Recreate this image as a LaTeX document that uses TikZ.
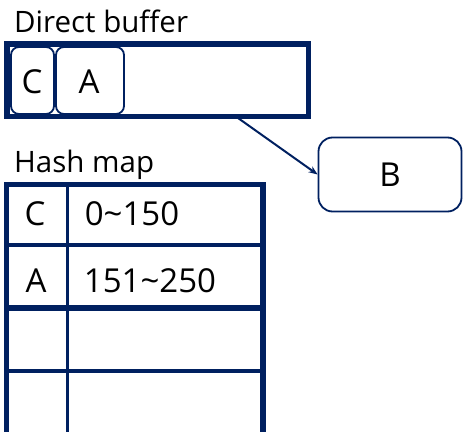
\documentclass[tikz,border=0pt]{standalone}
\usepackage{fontspec}
\setmainfont{Open Sans}
\usetikzlibrary{arrows.meta}
\definecolor{navy}{RGB}{0,32,96}
\begin{document}
\begin{tikzpicture}[x=1pt,y=-1pt,
  title/.style={anchor=base west,inner sep=0pt,font=\fontsize{29.5}{31}\selectfont},
  lbl/.style={inner sep=0pt,font=\fontsize{33}{36}\selectfont},
  frame/.style={draw=navy,line width=5.5pt},
  cell/.style={draw=navy,line width=1.8pt,rounded corners=8pt},
  conn/.style={draw=navy,line width=2pt,-{Stealth[length=9pt,width=7pt]}}]
\useasboundingbox (0,0) rectangle (463,431);
% Direct buffer
\node[title] (t1) at (14,32) {Direct buffer};
\draw[frame] (7,44) rectangle (308.5,116.5);
\draw[cell] (11,47) rectangle (54,114);
\draw[cell] (56,47) rectangle (124,114);
\node[lbl] (c1) at (32,82) {C};
\node[lbl] (a1) at (89,82) {A};
\coordinate (src) at (238,118);
% B
\node[draw=navy,line width=1.8pt,rounded corners=14pt,minimum width=143pt,minimum height=74pt,inner sep=0pt,font=\fontsize{33}{36}\selectfont] (b) at (390,174.5) {B};
\draw[conn] (src) -- (b.west);
% Hash map
\node[title] (t2) at (14,172) {Hash map};
\begin{scope}
\clip (0,0) rectangle (463,431);
\draw[navy,line width=3pt] (67.5,184) -- (67.5,440);
\draw[navy,line width=4pt] (6.5,245) -- (263,245);
\draw[navy,line width=5.5pt] (6.5,308) -- (263,308);
\draw[navy,line width=4.5pt] (6.5,371) -- (263,371);
\draw[frame] (6.5,184.5) rectangle (263,445);
\end{scope}
\node[lbl] (c2) at (35,214) {C};
\node[lbl] (r1) at (132,214) {0\char"7E 150};
\node[lbl] (a2) at (36,281) {A};
\node[lbl] (r2) at (150,281) {151\char"7E 250};
\end{tikzpicture}
\end{document}
